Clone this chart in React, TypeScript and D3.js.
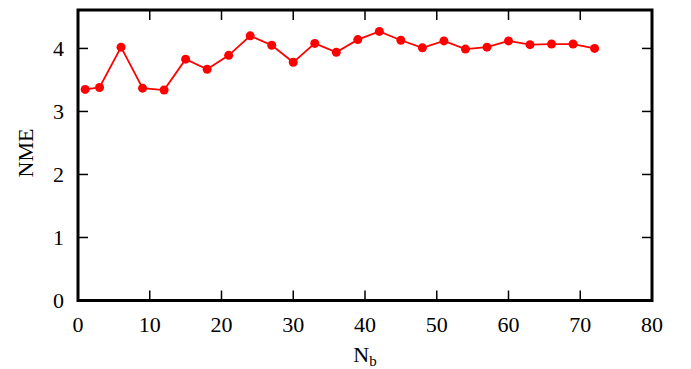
import { useEffect, useRef } from "react";
import * as d3 from "d3";

const NB = [1, 3, 6, 9, 12, 15, 18, 21, 24, 27, 30, 33, 36, 39, 42, 45, 48, 51, 54, 57, 60, 63, 66, 69, 72];
const NME = [
  3.35, 3.38, 4.02, 3.37, 3.34, 3.83, 3.67, 3.89, 4.2, 4.05, 3.78, 4.08, 3.94, 4.14, 4.27, 4.13, 4.01, 4.12,
  3.99, 4.02, 4.12, 4.06, 4.07, 4.07, 4.0,
];
const X_TICKS = [0, 10, 20, 30, 40, 50, 60, 70, 80];
const Y_TICKS = [0, 1, 2, 3, 4];

const W = 691;
const H = 369;
const FONT = "Liberation Serif, Times New Roman, DejaVu Serif, serif";

export default function App() {
  const svgRef = useRef<SVGSVGElement>(null);

  useEffect(() => {
    const svg = svgRef.current;
    if (!svg) return;
    const m = { top: 10, right: 39, bottom: 68.5, left: 78 };
    const iW = W - m.left - m.right;
    const iH = H - m.top - m.bottom;

    const s = d3.select(svg);
    s.selectAll("*").remove();
    const g = s.append("g").attr("transform", `translate(${m.left},${m.top})`);

    const x = d3.scaleLinear().domain([0, 80]).range([0, iW]);
    const y = d3.scaleLinear().domain([0, 4.61]).range([iH, 0]);

    const tickLen = 10;

    // inward ticks on all four sides (gnuplot mirror style)
    const tg = g.append("g").attr("stroke", "#000").attr("stroke-width", 1.5);
    X_TICKS.slice(1, -1).forEach((t) => {
      tg.append("line").attr("x1", x(t)).attr("x2", x(t)).attr("y1", iH).attr("y2", iH - tickLen);
      tg.append("line").attr("x1", x(t)).attr("x2", x(t)).attr("y1", 0).attr("y2", tickLen);
    });
    Y_TICKS.slice(1).forEach((t) => {
      tg.append("line").attr("x1", 0).attr("x2", tickLen).attr("y1", y(t)).attr("y2", y(t));
      tg.append("line").attr("x1", iW).attr("x2", iW - tickLen).attr("y1", y(t)).attr("y2", y(t));
    });

    // frame
    g.append("rect")
      .attr("width", iW)
      .attr("height", iH)
      .attr("fill", "none")
      .attr("stroke", "#000")
      .attr("stroke-width", 3);

    // tick labels
    g.append("g")
      .selectAll("text")
      .data(X_TICKS)
      .join("text")
      .attr("x", (d) => x(d))
      .attr("y", iH + 31)
      .attr("text-anchor", "middle")
      .style("font-family", FONT)
      .style("font-size", "22px")
      .attr("fill", "#000")
      .text((d) => d);

    g.append("g")
      .selectAll("text")
      .data(Y_TICKS)
      .join("text")
      .attr("x", -14)
      .attr("y", (d) => y(d) + 7.5)
      .attr("text-anchor", "end")
      .style("font-family", FONT)
      .style("font-size", "22px")
      .attr("fill", "#000")
      .text((d) => d);

    // axis titles
    s.append("text")
      .attr("transform", `translate(33,153) rotate(-90)`)
      .attr("text-anchor", "middle")
      .style("font-family", FONT)
      .style("font-size", "22px")
      .attr("fill", "#000")
      .text("NME");

    const xl = s
      .append("text")
      .attr("x", m.left + iW / 2)
      .attr("y", 362)
      .attr("text-anchor", "middle")
      .style("font-family", FONT)
      .style("font-size", "22px")
      .attr("fill", "#000");
    xl.append("tspan").text("N");
    xl.append("tspan").style("font-size", "15px").attr("dy", 4).text("b");

    // series
    const pts = NB.map((n, i) => [n, NME[i]] as [number, number]);
    const line = d3
      .line<[number, number]>()
      .x((d) => x(d[0]))
      .y((d) => y(d[1]));

    g.append("path")
      .attr("d", line(pts))
      .attr("fill", "none")
      .attr("stroke", "#ff0000")
      .attr("stroke-width", 1.8);

    g.append("g")
      .selectAll("circle")
      .data(pts)
      .join("circle")
      .attr("cx", (d) => x(d[0]))
      .attr("cy", (d) => y(d[1]))
      .attr("r", 4.5)
      .attr("fill", "#ff0000");
  }, []);

  return (
    <div style={{ position: "absolute", left: 0, top: 0, width: W, height: H, background: "#fff" }}>
      <svg ref={svgRef} width={W} height={H} style={{ display: "block" }} />
    </div>
  );
}
